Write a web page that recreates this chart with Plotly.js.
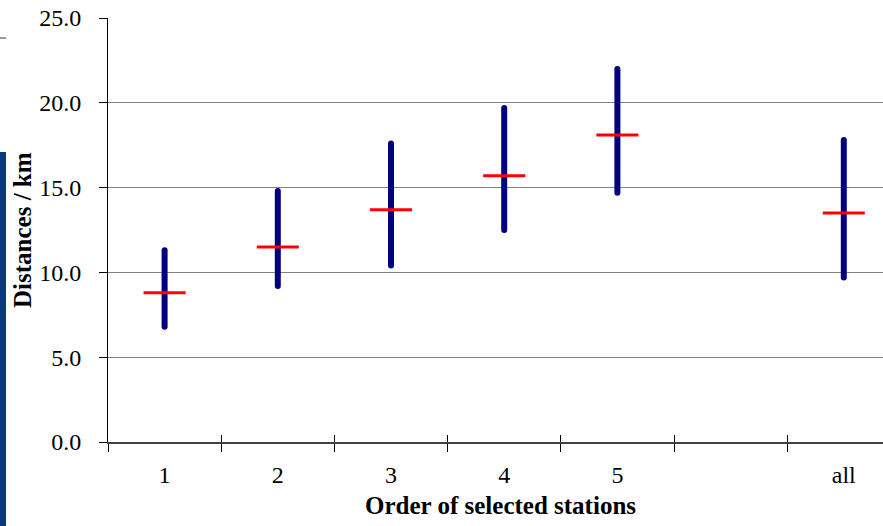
<!DOCTYPE html>
<html>
<head>
<meta charset="utf-8">
<script src="https://cdn.plot.ly/plotly-3.0.1.min.js"></script>
<style>
  html, body { margin: 0; padding: 0; background: #fff; }
  #chart { width: 883px; height: 526px; }
  /* rounded ends on the range bars */
  #chart .scatterlayer .js-line { stroke-linecap: round; }
</style>
</head>
<body>
<div id="chart"></div>
<script>
// Station order categories (the sixth slot is left empty on purpose)
const categories = ["1", "2", "3", "4", "5", "", "all"];
// Range of distances (km) for each category
const rangeHigh = [11.3, 14.8, 17.6, 19.7, 22.0, null, 17.8];
const rangeLow  = [6.8,  9.2,  10.4, 12.5, 14.7, null, 9.7];
// Mean distance (km)
const meanDist  = [8.8,  11.5, 13.7, 15.7, 18.1, null, 13.5];
// Y tick values
const yTicks = [0, 5, 10, 15, 20, 25];

const W = 883, H = 526;
const M = { l: 108, r: 0, t: 18, b: 84 };
const plotW = W - M.l - M.r, plotH = H - M.t - M.b;
const px2paperX = p => (p - M.l) / plotW;
const px2paperY = p => (H - M.b - p) / plotH;

const idx = categories.map((_, i) => i);
const boundaries = categories.map((_, i) => i - 0.5).concat([categories.length - 0.5]);

// Vertical range bars: one segment per category, separated by gaps
const barX = [], barY = [];
idx.forEach(i => {
  if (rangeHigh[i] == null) return;
  barX.push(i, i, null);
  barY.push(rangeLow[i], rangeHigh[i], null);
});

const traces = [
  {
    x: barX, y: barY, type: "scatter", mode: "lines",
    line: { color: "#000080", width: 6 },
    hoverinfo: "skip", showlegend: false
  },
  {
    x: idx, y: meanDist, type: "scatter", mode: "markers",
    marker: { symbol: "line-ew", size: 30, line: { color: "#ff0000", width: 3 } },
    showlegend: false
  },
  // carries the category labels at the category centres
  {
    x: idx, y: meanDist, xaxis: "x3", type: "scatter", mode: "markers",
    marker: { opacity: 0 }, hoverinfo: "skip", showlegend: false
  },
  // carries the inner half of the boundary ticks
  {
    x: idx, y: meanDist, xaxis: "x2", type: "scatter", mode: "markers",
    marker: { opacity: 0 }, hoverinfo: "skip", showlegend: false
  }
];

const xRange = [-0.5, -0.5 + plotW / 113.2];
const serif = "Liberation Serif, Times New Roman, serif";
const tickFont = { family: serif, size: 24, color: "#000000" };
const titleFont = { family: serif, size: 25, color: "#000000" };

const layout = {
  width: W, height: H,
  margin: M,
  paper_bgcolor: "#ffffff", plot_bgcolor: "#ffffff",
  font: { family: serif, color: "#000000", size: 24 },
  showlegend: false,
  xaxis: {
    range: xRange, showgrid: false, zeroline: false,
    showline: true, linecolor: "#404040", linewidth: 2,
    tickmode: "array", tickvals: boundaries, showticklabels: false,
    ticks: "outside", ticklen: 8, tickcolor: "#000000", tickwidth: 1
  },
  xaxis2: {
    overlaying: "x", anchor: "y", matches: "x", range: xRange,
    showgrid: false, zeroline: false, showline: false,
    tickmode: "array", tickvals: boundaries, showticklabels: false,
    ticks: "inside", ticklen: 7, tickcolor: "#000000", tickwidth: 1
  },
  xaxis3: {
    overlaying: "x", anchor: "y", matches: "x", range: xRange,
    showgrid: false, zeroline: false, showline: false,
    tickmode: "array", tickvals: idx, ticktext: categories,
    ticks: "", ticklabelstandoff: 16,
    tickfont: tickFont
  },
  yaxis: {
    range: [0, 25], tickmode: "array", tickvals: yTicks,
    tickformat: ".1f",
    showgrid: true, gridcolor: "#808080", gridwidth: 1,
    zeroline: false,
    showline: true, linecolor: "#000000", linewidth: 1,
    ticks: "outside", ticklen: 8, tickcolor: "#000000", tickwidth: 1,
    ticklabelstandoff: 13,
    tickfont: tickFont
  },
  annotations: [
    {
      text: "<b>Order of selected stations</b>", xref: "paper", yref: "paper",
      x: px2paperX(500), y: px2paperY(505), xanchor: "center", yanchor: "middle",
      showarrow: false, font: titleFont
    },
    {
      text: "<b>Distances / km</b>", xref: "paper", yref: "paper",
      x: px2paperX(22), y: px2paperY(230), xanchor: "center", yanchor: "middle",
      textangle: -90, showarrow: false, font: titleFont
    }
  ],
  shapes: [
    {
      type: "rect", xref: "paper", yref: "paper", layer: "above",
      x0: px2paperX(0), x1: px2paperX(6), y0: px2paperY(526), y1: px2paperY(152),
      fillcolor: "#0b3b74", line: { width: 0 }
    },
    {
      type: "line", xref: "paper", yref: "paper",
      x0: px2paperX(0), x1: px2paperX(6), y0: px2paperY(38), y1: px2paperY(38),
      line: { color: "#333333", width: 1 }
    }
  ]
};

Plotly.newPlot("chart", traces, layout, { staticPlot: true, displayModeBar: false });
</script>
</body>
</html>
